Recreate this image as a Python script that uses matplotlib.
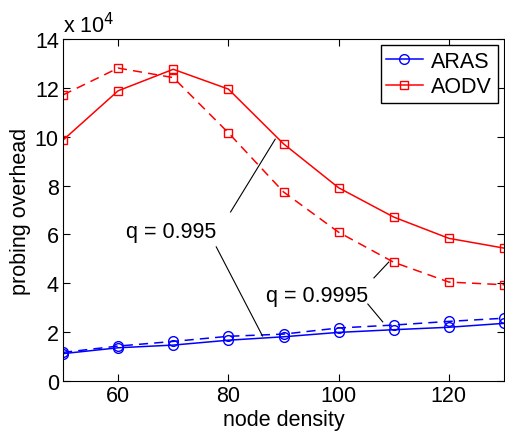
import matplotlib
matplotlib.use("Agg")
import matplotlib.pyplot as plt

plt.rcParams['font.family'] = ['Liberation Sans', 'DejaVu Sans']

density = [50, 60, 70, 80, 90, 100, 110, 120, 130]
# probing overhead in units of 1e4
aodv_995 = [9.86, 11.88, 12.76, 11.95, 9.71, 7.91, 6.71, 5.84, 5.44]
aodv_9995 = [11.71, 12.81, 12.42, 10.16, 7.74, 6.09, 4.86, 4.05, 3.94]
aras_995 = [1.12, 1.36, 1.47, 1.67, 1.81, 1.99, 2.10, 2.20, 2.36]
aras_9995 = [1.17, 1.43, 1.62, 1.83, 1.92, 2.17, 2.29, 2.44, 2.57]

fs = 15.5
fig = plt.figure(figsize=(5.06, 4.35), dpi=100)
ax = fig.add_axes([63/506, 1-382/435, 441/506, 342/435])

dash = (0, (6, 4))
ax.plot(density, aras_995, '-o', color='blue', lw=1.1, ms=7, mfc='none', label='ARAS')
ax.plot(density, aodv_995, '-s', color='red', lw=1.1, ms=5.5, mfc='none', label='AODV')
ax.plot(density, aras_9995, linestyle=dash, marker='o', color='blue', lw=1.1, ms=7, mfc='none')
ax.plot(density, aodv_9995, linestyle=dash, marker='s', color='red', lw=1.1, ms=5.5, mfc='none')

ax.set_xlim(50, 130)
ax.set_ylim(0, 14)
ax.set_xticks([60, 80, 100, 120])
ax.set_yticks(range(0, 15, 2))
ax.tick_params(direction='in', top=True, right=True, labelsize=fs, length=5, pad=3)
ax.set_xlabel('node density', fontsize=fs, labelpad=2)
ax.set_ylabel('probing overhead', fontsize=fs, labelpad=3)
ax.text(0.0, 1.005, r'x 10$^4$', transform=ax.transAxes, fontsize=fs, va='bottom', ha='left')

leg = ax.legend(loc='upper right', fontsize=fs, fancybox=False, framealpha=1,
                edgecolor='black', handlelength=1.7, handletextpad=0.4,
                borderaxespad=0.3, borderpad=0.25, labelspacing=0.2)
leg.get_frame().set_linewidth(1.0)

# annotations
ax.text(69.6, 6.14, 'q = 0.995', fontsize=fs, ha='center', va='center')
ax.plot([80.4, 88.5], [6.92, 9.9], color='black', lw=0.8)
ax.plot([77.8, 86.2], [5.49, 1.84], color='black', lw=0.8)
ax.text(96.0, 3.52, 'q = 0.9995', fontsize=fs, ha='center', va='center')
ax.plot([106.4, 109.1], [4.22, 4.87], color='black', lw=0.8)
ax.plot([105.3, 108.0], [3.15, 2.42], color='black', lw=0.8)

fig.savefig('out.png', dpi=100)
